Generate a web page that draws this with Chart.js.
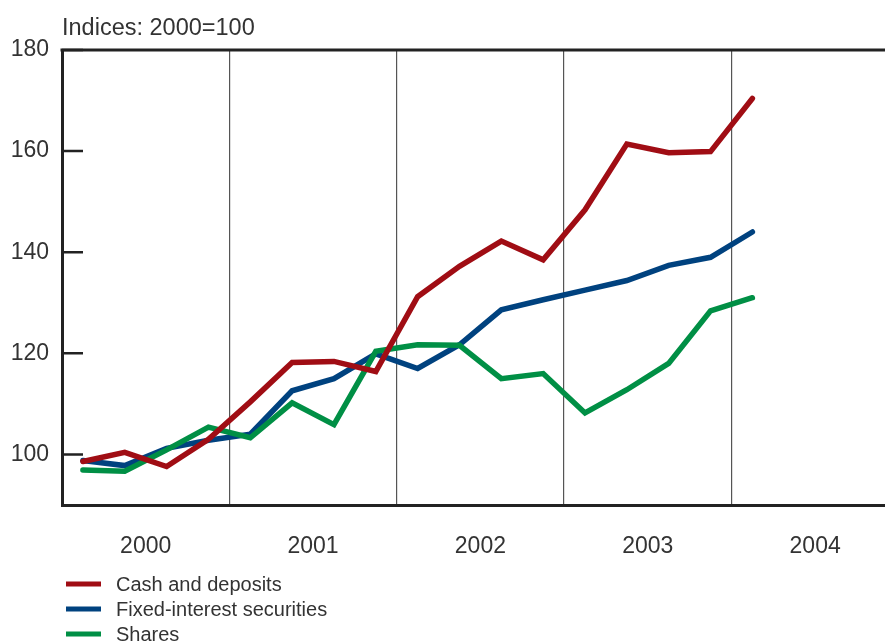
<!DOCTYPE html>
<html>
<head>
<meta charset="utf-8">
<script src="https://cdn.jsdelivr.net/npm/chart.js@4.4.1/dist/chart.umd.min.js"></script>
<style>
  html, body { margin: 0; padding: 0; background: #fff; }
  #wrap { width: 885px; height: 644px; }
</style>
</head>
<body>
<div id="wrap"><canvas id="indexChart" width="885" height="644"></canvas></div>
<script>
// quarterly index values, 2000 Q1 .. 2004 Q1
const years = ['2000', '2001', '2002', '2003', '2004'];
const yTicks = [100, 120, 140, 160, 180];
const seriesNames = ['Cash and deposits', 'Fixed-interest securities', 'Shares'];
const cash = [98.6, 100.4, 97.6, 103.0, 110.4, 118.2, 118.4, 116.4, 131.2, 137.2, 142.2, 138.5, 148.4, 161.4, 159.7, 159.9, 170.4];
const bonds = [98.8, 97.8, 101.2, 102.8, 104.0, 112.6, 115.0, 119.9, 117.0, 121.7, 128.6, 130.6, 132.5, 134.4, 137.4, 139.0, 144.0];
const shares = [96.9, 96.7, 100.9, 105.4, 103.3, 110.2, 105.9, 120.4, 121.7, 121.6, 115.0, 116.0, 108.2, 112.8, 118.0, 128.4, 131.0];

const colors = ['#a00d14', '#00427f', '#008f45'];
const textColor = '#333';
const fontFamily = '"Liberation Sans", Arial, Helvetica, sans-serif';

Chart.defaults.font.family = fontFamily;
Chart.defaults.color = textColor;

// each point sits in the middle of its quarter
const toPoints = arr => arr.map((v, i) => ({ x: i + 0.5, y: v }));
const xMax = 19.67;

const decor = {
    id: 'decor',
    beforeDatasetsDraw(chart) {
        const { ctx, chartArea: a, scales } = chart;
        ctx.save();
        ctx.strokeStyle = '#222';
        // frame line along the top
        ctx.lineWidth = 3;
        ctx.beginPath();
        ctx.moveTo(a.left - 1.5, a.top);
        ctx.lineTo(a.right, a.top);
        ctx.stroke();
        // short tick marks pointing into the plot
        ctx.lineWidth = 2.5;
        ctx.beginPath();
        yTicks.forEach(v => {
            const py = scales.y.getPixelForValue(v);
            ctx.moveTo(a.left, py);
            ctx.lineTo(a.left + 21, py);
        });
        ctx.stroke();
        ctx.restore();
    },
    afterDraw(chart) {
        const { ctx, chartArea: a } = chart;
        ctx.save();
        ctx.fillStyle = textColor;
        ctx.font = '23.5px ' + fontFamily;
        ctx.textBaseline = 'alphabetic';
        ctx.textAlign = 'left';
        ctx.fillText('Indices: 2000=100', a.left, 35);

        // legend
        ctx.font = '20px ' + fontFamily;
        ctx.textBaseline = 'middle';
        chart.data.datasets.forEach((ds, i) => {
            const yy = 584 + i * 25;
            ctx.strokeStyle = ds.borderColor;
            ctx.lineWidth = 5;
            ctx.beginPath();
            ctx.moveTo(66, yy);
            ctx.lineTo(101, yy);
            ctx.stroke();
            ctx.fillText(ds.label, 116, yy + 1);
        });
        ctx.restore();
    }
};

const ctx = document.getElementById('indexChart').getContext('2d');
new Chart(ctx, {
    type: 'line',
    data: {
        datasets: [
            { label: seriesNames[0], data: toPoints(cash), borderColor: colors[0], order: 0 },
            { label: seriesNames[1], data: toPoints(bonds), borderColor: colors[1], order: 2 },
            { label: seriesNames[2], data: toPoints(shares), borderColor: colors[2], order: 1 }
        ]
    },
    options: {
        responsive: false,
        animation: false,
        devicePixelRatio: 1,
        layout: { padding: { top: 50, left: 0, right: 0, bottom: 0 } },
        elements: {
            line: { borderWidth: 5.5, tension: 0, borderCapStyle: 'round', fill: false },
            point: { radius: 0, hoverRadius: 0 }
        },
        plugins: { legend: { display: false }, tooltip: { enabled: false } },
        scales: {
            x: {
                type: 'linear', position: 'bottom', min: 0, max: xMax,
                afterBuildTicks: s => { s.ticks = [4, 8, 12, 16].map(v => ({ value: v })); },
                afterFit: s => { s.height = 0; },
                ticks: { display: false },
                grid: { drawTicks: false, color: '#555', lineWidth: 1.2 },
                border: { display: true, color: '#222', width: 3 }
            },
            years: {
                type: 'linear', position: 'bottom', min: 0, max: xMax,
                afterBuildTicks: s => { s.ticks = years.map((y, i) => ({ value: i * 4 + 2 })); },
                afterFit: s => { s.height = 139; },
                ticks: {
                    padding: 20,
                    maxRotation: 0,
                    font: { size: 23 },
                    color: textColor,
                    callback: v => years[(v - 2) / 4]
                },
                grid: { display: false },
                border: { display: false }
            },
            y: {
                min: 90, max: 180,
                afterBuildTicks: s => { s.ticks = yTicks.map(v => ({ value: v })); },
                afterFit: s => { s.width = 62; },
                ticks: { padding: 13, font: { size: 23 }, color: textColor },
                grid: { drawOnChartArea: false, drawTicks: false },
                border: { display: true, color: '#222', width: 3 }
            }
        }
    },
    plugins: [decor]
});
</script>
</body>
</html>
